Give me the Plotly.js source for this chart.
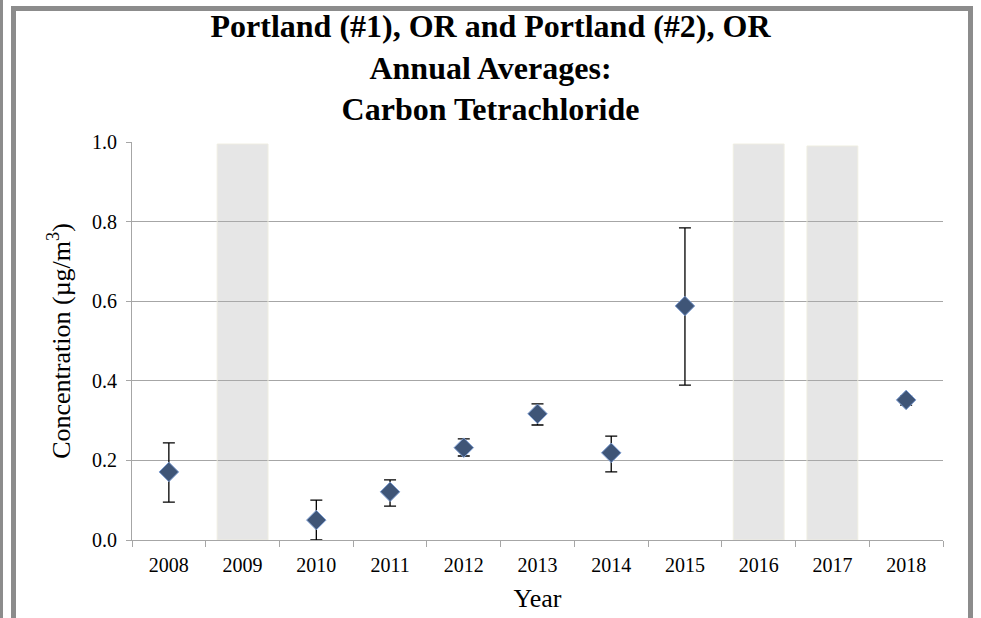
<!DOCTYPE html>
<html>
<head>
<meta charset="utf-8">
<script src="https://cdn.plot.ly/plotly-3.0.1.min.js"></script>
<style>
  html, body { margin: 0; padding: 0; background: #ffffff; }
  #wrap { position: relative; width: 981px; height: 618px; overflow: hidden; }
  #chart { position: absolute; left: 0; top: 0; width: 981px; height: 618px; }
  #stripe { position: absolute; left: 0; top: 0; width: 3px; height: 618px; background: #8c8c8c; z-index: 5; }
  #frame { position: absolute; left: 11px; top: 6px; width: 952px; height: 700px;
           border: 5px solid #8c8c8c; border-bottom: none; z-index: 5; pointer-events: none; }
</style>
</head>
<body>
<div id="wrap">
  <div id="chart"></div>
  <div id="stripe"></div>
  <div id="frame"></div>
</div>
<script>
// ---- data ----
const years = ['2008','2009','2010','2011','2012','2013','2014','2015','2016','2017','2018'];

const dataYears   = ['2008','2010','2011','2012','2013','2014','2015','2018'];
const averages    = [0.171, 0.050, 0.121, 0.232, 0.317, 0.219, 0.588, 0.352];
const upperBounds = [0.244, 0.100, 0.151, 0.254, 0.342, 0.261, 0.784, 0.362];
const lowerBounds = [0.095, 0.000, 0.085, 0.211, 0.289, 0.171, 0.389, 0.339];

const noDataYears   = ['2009','2016','2017'];
const noDataHeights = [0.995, 0.995, 0.99];

const yTicks = [0.0, 0.2, 0.4, 0.6, 0.8, 1.0];
const yTickLabels = ['0.0','0.2','0.4','0.6','0.8','1.0'];

// ---- traces ----
const errPlus  = upperBounds.map((u, i) => u - averages[i]);
const errMinus = lowerBounds.map((l, i) => averages[i] - l);

const serif = 'Liberation Serif, Times New Roman, serif';

const barTrace = {
  type: 'bar',
  x: noDataYears,
  y: noDataHeights,
  width: 0.69,
  marker: { color: 'rgba(172,172,172,0.3)', line: { color: 'rgba(240,238,225,0.9)', width: 1 } },
  hoverinfo: 'skip',
  showlegend: false
};

const pointTrace = {
  type: 'scatter',
  mode: 'markers',
  x: dataYears,
  y: averages,
  marker: { symbol: 'diamond', size: 15, color: '#3f5577', line: { color: '#7d9dd2', width: 1 } },
  error_y: {
    type: 'data',
    symmetric: false,
    array: errPlus,
    arrayminus: errMinus,
    color: '#000000',
    thickness: 1.3,
    width: 6
  },
  cliponaxis: false,
  showlegend: false
};

const layout = {
  width: 981,
  height: 618,
  paper_bgcolor: '#ffffff',
  plot_bgcolor: '#ffffff',
  margin: { l: 132, r: 38, t: 142, b: 78, pad: 0 },
  font: { family: serif, color: '#000000', size: 20 },
  title: {
    text: '<b>Portland (#1), OR and Portland (#2), OR<br>Annual Averages:<br>Carbon Tetrachloride</b>',
    font: { family: serif, size: 32, color: '#000000' },
    x: 0.5, xref: 'container', xanchor: 'center',
    y: 0.94, yref: 'container', yanchor: 'top'
  },
  xaxis: {
    type: 'category',
    categoryorder: 'array',
    categoryarray: years,
    range: [-0.5, years.length - 0.5],
    tickson: 'boundaries',
    ticks: 'outside',
    ticklen: 6,
    tickcolor: '#a6a6a6',
    tickwidth: 1,
    ticklabelstandoff: 7,
    showline: true,
    linecolor: '#a6a6a6',
    linewidth: 1,
    showgrid: false,
    zeroline: false,
    tickfont: { family: serif, size: 20, color: '#000000' },
    title: { text: 'Year', font: { family: serif, size: 26, color: '#000000' }, standoff: 13 },
    fixedrange: true
  },
  yaxis: {
    range: [0, 1.0],
    tickmode: 'array',
    tickvals: yTicks,
    ticktext: yTickLabels,
    ticks: 'outside',
    ticklen: 5,
    tickcolor: '#a6a6a6',
    tickwidth: 1,
    ticklabelstandoff: 5,
    showline: true,
    linecolor: '#a6a6a6',
    linewidth: 1,
    showgrid: true,
    gridcolor: '#a6a6a6',
    gridwidth: 1,
    zeroline: false,
    tickfont: { family: serif, size: 20, color: '#000000' },
    title: { text: 'Concentration (µg/m<sup>3</sup>)', font: { family: serif, size: 26, color: '#000000' }, standoff: 13 },
    fixedrange: true
  },
  showlegend: false
};

Plotly.newPlot('chart', [barTrace, pointTrace], layout, { displayModeBar: false, staticPlot: true });
</script>
</body>
</html>
